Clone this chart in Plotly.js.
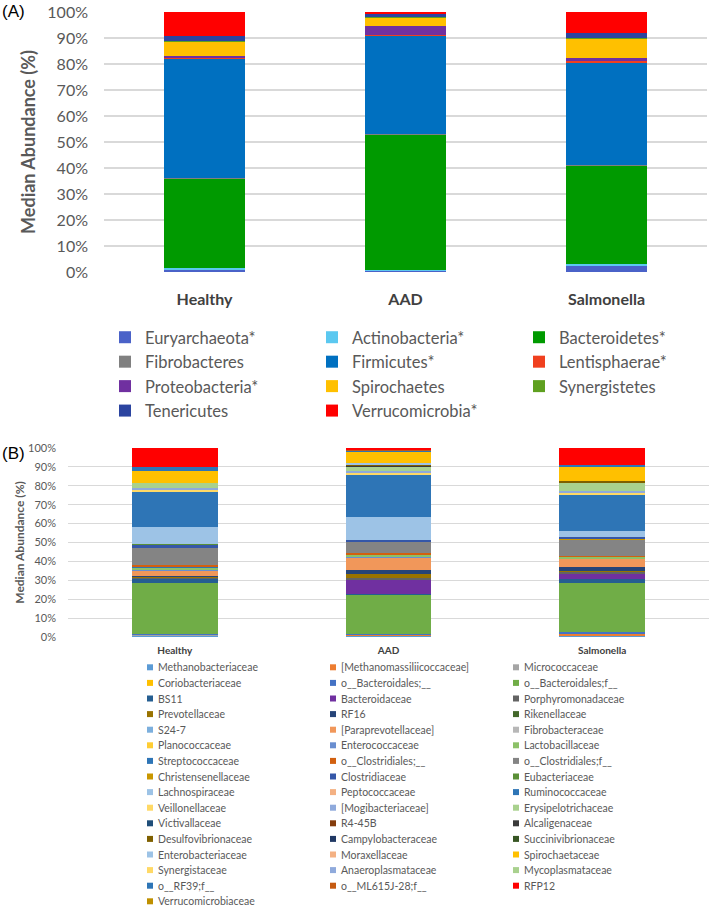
<!DOCTYPE html>
<html><head><meta charset="utf-8">
<script src="https://cdn.plot.ly/plotly-3.0.1.min.js"></script>
<style>html,body{margin:0;padding:0;background:#fff}#chart{width:709px;height:906px}</style>
</head><body><div id="chart"></div>
<script>
// ---------- DATA ----------
const groups = ['Healthy', 'AAD', 'Salmonella'];

// Panel (A): phyla (stack order bottom -> top)
const phyla = ['Euryarchaeota*', 'Actinobacteria*', 'Bacteroidetes*', 'Fibrobacteres', 'Firmicutes*',
  'Lentisphaerae*', 'Proteobacteria*', 'Spirochaetes', 'Synergistetes', 'Tenericutes', 'Verrucomicrobia*'];
const phylaColors = ['#4A62C8', '#5BC8F0', '#009A00', '#808080', '#0070C0',
  '#F0401F', '#7030A0', '#FFC000', '#5FA020', '#2B44A0', '#FF0000'];
const phylaHealthy    = [1.0, 0.5, 34.4, 0.4, 45.9, 0.2, 0.5, 5.8, 0.2, 1.9, 9.2];
const phylaAAD        = [0.5, 0.3, 52.1, 0.1, 38.1, 0.1, 3.3, 3.4, 0.1, 1.4, 0.6];
const phylaSalmonella = [2.5, 0.4, 38.1, 0.3, 39.2, 0.7, 1.2, 7.4, 0.2, 2.1, 7.9];

// Panel (B): families (stack order bottom -> top)
const families = ['Methanobacteriaceae', '[Methanomassiliicoccaceae]', 'Micrococcaceae',
  'Coriobacteriaceae', 'o__Bacteroidales;__', 'o__Bacteroidales;f__',
  'BS11', 'Bacteroidaceae', 'Porphyromonadaceae',
  'Prevotellaceae', 'RF16', 'Rikenellaceae',
  'S24-7', '[Paraprevotellaceae]', 'Fibrobacteraceae',
  'Planococcaceae', 'Enterococcaceae', 'Lactobacillaceae',
  'Streptococcaceae', 'o__Clostridiales;__', 'o__Clostridiales;f__',
  'Christensenellaceae', 'Clostridiaceae', 'Eubacteriaceae',
  'Lachnospiraceae', 'Peptococcaceae', 'Ruminococcaceae',
  'Veillonellaceae', '[Mogibacteriaceae]', 'Erysipelotrichaceae',
  'Victivallaceae', 'R4-45B', 'Alcaligenaceae',
  'Desulfovibrionaceae', 'Campylobacteraceae', 'Succinivibrionaceae',
  'Enterobacteriaceae', 'Moraxellaceae', 'Spirochaetaceae',
  'Synergistaceae', 'Anaeroplasmataceae', 'Mycoplasmataceae',
  'o__RF39;f__', 'o__ML615J-28;f__', 'RFP12',
  'Verrucomicrobiaceae'];
const familyColors = ['#5B9BD5', '#ED7D31', '#A5A5A5',
  '#FFC000', '#4472C4', '#70AD47',
  '#255E91', '#7030A0', '#636363',
  '#997300', '#264478', '#43682B',
  '#7CAFDD', '#F1975A', '#B7B7B7',
  '#FFCD33', '#698ED0', '#8CC168',
  '#2E75B6', '#D2600F', '#848484',
  '#C99700', '#3557A8', '#5A8F37',
  '#9DC3E6', '#F4B183', '#2E75B6',
  '#FFD966', '#8FAADC', '#A9D18E',
  '#1F4E79', '#843C0C', '#3A3A3A',
  '#7F6000', '#203864', '#375623',
  '#9DC3E6', '#F4B183', '#FFC000',
  '#FFD966', '#8FAADC', '#A9D18E',
  '#2E75B6', '#C55A11', '#FF0000',
  '#BF9000'];
const familyHealthy = [0.8, 0.2, 0.3,
  0.1, 0.2, 26.8,
  2.6, 0, 0.6,
  0.3, 0.5, 0,
  0, 3.0, 0,
  0, 0.5, 0.7,
  0.3, 1.2, 9.2,
  0, 1.4, 0.3,
  9.4, 0, 18.5,
  0.9, 1.2, 2.3,
  0, 0, 0,
  0, 0, 0,
  0, 0, 6.7,
  0, 0, 0,
  1.8, 0, 10.2,
  0];
const familyAAD = [0.7, 0.6, 0,
  0, 0.5, 20.8,
  0.1, 7.6, 0.8,
  2.3, 2.1, 0,
  0, 6.6, 0,
  0, 0.6, 0.8,
  0, 1.2, 5.8,
  0, 0.9, 0,
  11.9, 0, 22.9,
  1.0, 0.6, 2.6,
  0, 0, 0.3,
  0.4, 0, 0,
  1.1, 0, 6.2,
  0, 0, 0,
  0.3, 0.5, 0.8,
  0];
const familySalmonella = [0.9, 1.0, 0,
  0, 0.6, 25.9,
  2.3, 3.0, 0.8,
  0.4, 2.3, 0,
  0, 4.1, 0.2,
  0, 0, 0.9,
  0, 0.7, 8.4,
  0.4, 1.0, 0,
  3.4, 0, 18.7,
  1.2, 1.2, 4.1,
  0, 0, 0.5,
  0.4, 0, 0,
  0, 0, 7.6,
  0, 0, 0,
  1.2, 0, 8.8,
  0];

// ---------- BUILD ----------
const W = 709, H = 906;
const fx = p => p / W;
const fy = p => 1 - p / H;

const traces = [];
phyla.forEach((name, i) => {
  traces.push({
    type: 'bar', name: name, x: groups,
    y: [phylaHealthy[i], phylaAAD[i], phylaSalmonella[i]],
    xaxis: 'x', yaxis: 'y', legend: 'legend',
    marker: {color: phylaColors[i]}
  });
});
families.forEach((name, i) => {
  traces.push({
    type: 'bar', name: name, x: groups,
    y: [familyHealthy[i], familyAAD[i], familySalmonella[i]],
    xaxis: 'x2', yaxis: 'y2', showlegend: false,
    marker: {color: familyColors[i]}
  });
});

// Custom legend for panel (B) (3 columns, compact rows)
const shapes = [];
const annotations = [
  {xref: 'paper', yref: 'paper', x: 0, y: fy(0), xanchor: 'left', yanchor: 'top', showarrow: false,
   text: '(A)', font: {family: 'Liberation Sans, Arial', size: 17, color: '#000'}},
  {xref: 'paper', yref: 'paper', x: 0, y: fy(442), xanchor: 'left', yanchor: 'top', showarrow: false,
   text: '(B)', font: {family: 'Liberation Sans, Arial', size: 17, color: '#000'}}
];
families.forEach((name, i) => {
  const col = i % 3, row = Math.floor(i / 3);
  const tx = 157 + col * 183, ty = 667.3 + row * 15.6;
  shapes.push({type: 'rect', xref: 'paper', yref: 'paper',
    x0: fx(tx - 10), x1: fx(tx - 4), y0: fy(ty + 3), y1: fy(ty - 3),
    fillcolor: familyColors[i], line: {width: 0}});
  annotations.push({xref: 'paper', yref: 'paper', x: fx(tx - 1), y: fy(ty),
    xanchor: 'left', yanchor: 'middle', showarrow: false, text: name,
    font: {family: 'Lato, sans-serif', size: 10.5, color: '#595959'}});
});

const layout = {
  width: W, height: H,
  margin: {l: 0, r: 0, t: 0, b: 0, autoexpand: false},
  paper_bgcolor: '#fff', plot_bgcolor: '#fff',
  barmode: 'stack', bargap: 0.6,
  font: {family: 'Lato, sans-serif', color: '#595959'},
  showlegend: true,
  legend: {orientation: 'h', x: fx(105), xanchor: 'left', y: fy(320), yanchor: 'top',
    entrywidth: 162, entrywidthmode: 'pixels', traceorder: 'normal',
    font: {family: 'Lato, sans-serif', size: 16.5, color: '#595959'}, bgcolor: 'rgba(0,0,0,0)'},
  xaxis: {domain: [fx(104), fx(707)], anchor: 'y', showgrid: false, zeroline: false, showline: false,
    ticks: '', tickfont: {size: 16, color: '#404040', weight: 'bold'}, ticklabelstandoff: 16, fixedrange: true},
  yaxis: {domain: [fy(272), fy(12)], anchor: 'x', range: [0, 100], dtick: 10, ticksuffix: '%',
    gridcolor: '#D9D9D9', gridwidth: 1.5, zeroline: false, showline: false, ticks: '',
    tickfont: {size: 16, color: '#595959'}, ticklabelstandoff: 15, fixedrange: true,
    title: {text: 'Median Abundance (%)', font: {size: 18, color: '#595959', weight: 'bold'}, standoff: 7}},
  xaxis2: {domain: [fx(68), 1], anchor: 'y2', showgrid: false, zeroline: false, showline: false,
    ticks: '', tickfont: {size: 10, color: '#404040', weight: 'bold'}, ticklabelstandoff: 6, fixedrange: true},
  yaxis2: {domain: [fy(637), fy(448)], anchor: 'x2', range: [0, 100], dtick: 10, ticksuffix: '%',
    gridcolor: '#D9D9D9', gridwidth: 1, zeroline: false, showline: false, ticks: '',
    tickfont: {size: 11, color: '#595959'}, ticklabelstandoff: 11, fixedrange: true,
    title: {text: 'Median Abundance (%)', font: {size: 12, color: '#595959', weight: 'bold'}, standoff: 0}},
  shapes: shapes,
  annotations: annotations
};

Plotly.newPlot('chart', traces, layout, {displayModeBar: false, staticPlot: false});
</script></body></html>
